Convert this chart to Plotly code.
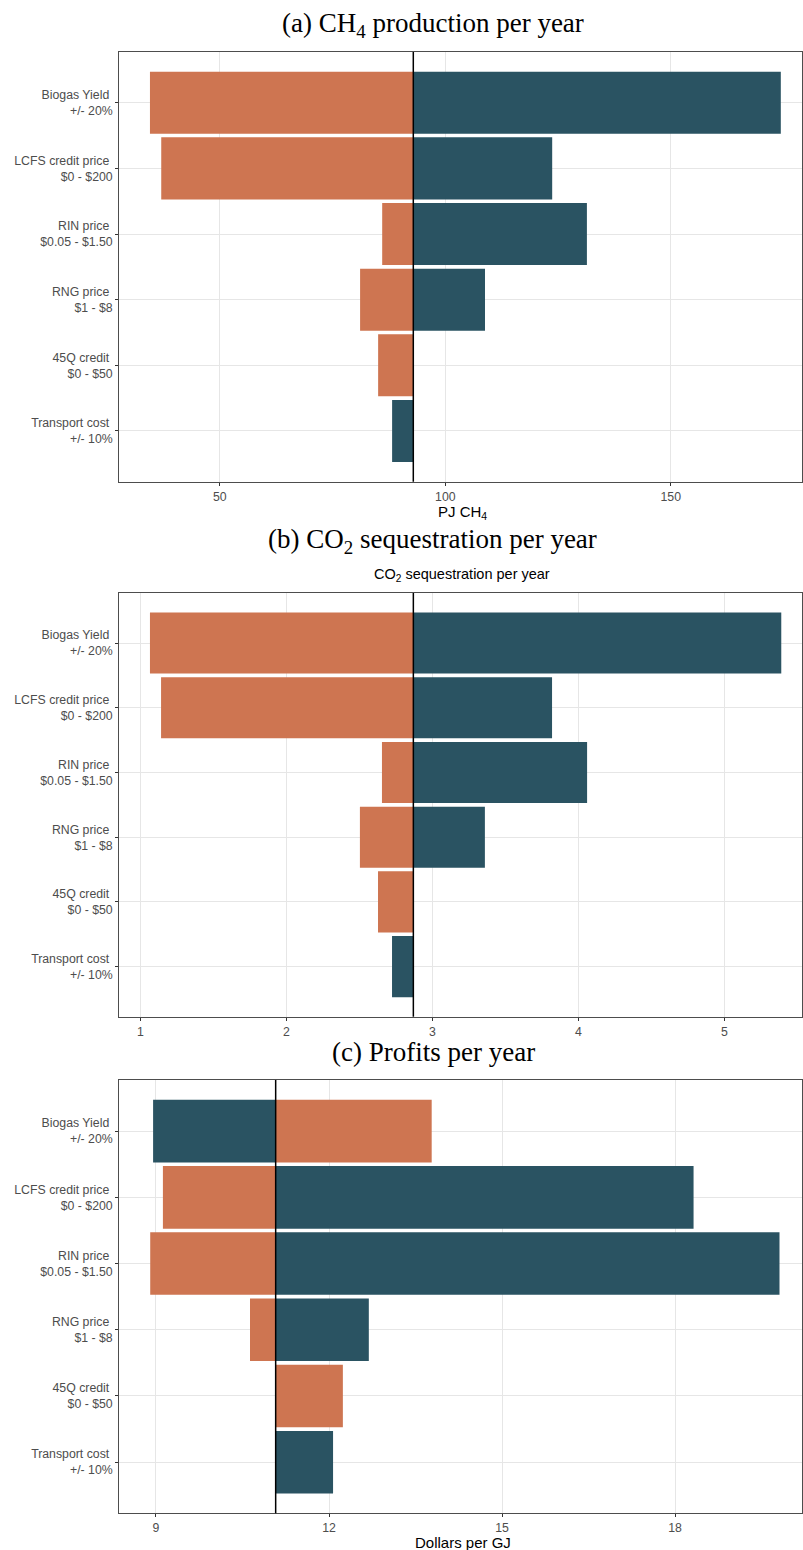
import plotly.graph_objects as go

# ---------------- data ----------------
param_names = ["Biogas Yield", "LCFS credit price", "RIN price", "RNG price", "45Q credit", "Transport cost"]
param_ranges = ["+/- 20%", "$0 - $200", "$0.05 - $1.50", "$1 - $8", "$0 - $50", "+/- 10%"]

# (a) CH4 production per year (PJ CH4)
base_a = 92.9
low_a = [34.5, 37.0, 86.0, 81.1, 85.1, 92.9]
high_a = [174.4, 123.7, 131.4, 108.8, 92.9, 88.2]
ticks_a = [50, 100, 150]

# (b) CO2 sequestration per year
base_b = 2.87
low_b = [1.066, 1.142, 2.655, 2.504, 2.628, 2.87]
high_b = [5.39, 3.82, 4.06, 3.36, 2.87, 2.724]
ticks_b = [1, 2, 3, 4, 5]

# (c) Profits per year (Dollars per GJ)
base_c = 11.075
low_c = [13.78, 9.12, 8.90, 10.63, 12.24, 11.075]
high_c = [8.95, 18.32, 19.81, 12.69, 11.075, 12.07]
ticks_c = [9, 12, 15, 18]

# ---------------- styling ----------------
W, H = 803, 1550
ORANGE = "#CE7551"
TEAL = "#2A5362"
SANS = "Liberation Sans"
SERIF = "Liberation Serif"
TICK_COLOR = "#4D4D4D"

labels = [f"{n}\u00a0<br>{r}" for n, r in zip(param_names, param_ranges)]

def py(px):
    return 1 - px / H

x_dom = [119.3 / W, 802 / W]
panels = [
    dict(base=base_a, low=low_a, high=high_a, ticks=ticks_a, xr=[27.7, 179.1], top=52, bottom=481.7),
    dict(base=base_b, low=low_b, high=high_b, ticks=ticks_b, xr=[0.856, 5.532], top=593, bottom=1016.7),
    dict(base=base_c, low=low_c, high=high_c, ticks=ticks_c, xr=[8.364, 20.2], top=1080, bottom=1513.3),
]

fig = go.Figure()
shapes = []
for i, p in enumerate(panels):
    k = "" if i == 0 else str(i + 1)
    xa, ya = "x" + k, "y" + k
    fig.add_trace(go.Bar(
        y=labels, x=[v - p["base"] for v in p["low"]], base=p["base"],
        orientation="h", marker=dict(color=ORANGE, line=dict(width=0)),
        width=0.945, xaxis=xa, yaxis=ya, showlegend=False, hoverinfo="skip"))
    fig.add_trace(go.Bar(
        y=labels, x=[v - p["base"] for v in p["high"]], base=p["base"],
        orientation="h", marker=dict(color=TEAL, line=dict(width=0)),
        width=0.945, xaxis=xa, yaxis=ya, showlegend=False, hoverinfo="skip"))
    axis_common = dict(
        showgrid=True, gridcolor="#E6E6E6", gridwidth=1, zeroline=False,
        showline=True, mirror=True, linecolor="#4D4D4D", linewidth=1.3,
        ticks="outside", ticklen=3, tickwidth=1, tickcolor="#333333",
        tickfont=dict(family=SANS, size=12.3, color=TICK_COLOR),
    )
    fig.layout["xaxis" + k] = dict(
        domain=x_dom, anchor=ya, range=p["xr"], tickvals=p["ticks"],
        ticktext=[str(t) for t in p["ticks"]], **axis_common)
    fig.layout["yaxis" + k] = dict(
        domain=[py(p["bottom"]), py(p["top"])], anchor=xa, type="category",
        categoryorder="array", categoryarray=labels,
        range=[5.7725, -0.7725], **axis_common)
    shapes.append(dict(type="line", xref=xa, yref=ya + " domain",
                       x0=p["base"], x1=p["base"], y0=0, y1=1,
                       line=dict(color="black", width=1.5), layer="above"))

annotations = [
    dict(text="(a) CH<sub>4</sub> production per year", x=433 / W, y=py(25),
         font=dict(family=SERIF, size=27, color="black")),
    dict(text="(b) CO<sub>2</sub> sequestration per year", x=432 / W, y=py(541),
         font=dict(family=SERIF, size=27, color="black")),
    dict(text="(c) Profits per year", x=433 / W, y=py(1052),
         font=dict(family=SERIF, size=27, color="black")),
    dict(text="CO<sub>2</sub> sequestration per year", x=462 / W, y=py(575),
         font=dict(family=SANS, size=14.5, color="black")),
    dict(text="PJ CH<sub>4</sub>", x=462 / W, y=py(512),
         font=dict(family=SANS, size=15, color="black")),
    dict(text="Dollars per GJ", x=463 / W, y=py(1542),
         font=dict(family=SANS, size=15, color="black")),
]
for a in annotations:
    a.update(xref="paper", yref="paper", showarrow=False, xanchor="center", yanchor="middle")

fig.update_layout(
    width=W, height=H, margin=dict(l=0, r=0, t=0, b=0),
    paper_bgcolor="white", plot_bgcolor="white",
    barmode="overlay", shapes=shapes, annotations=annotations,
    font=dict(family=SANS),
)

fig.write_html("out.html")
